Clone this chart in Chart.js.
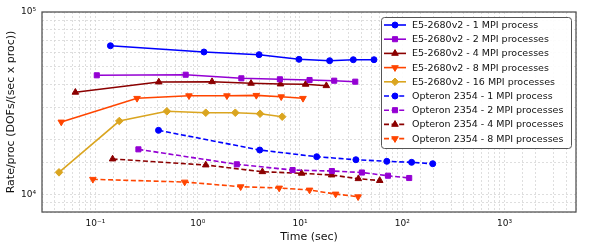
<!DOCTYPE html>
<html>
<head>
<meta charset="utf-8">
<script src="https://cdn.jsdelivr.net/npm/chart.js@4"></script>
<style>
  html, body { margin: 0; padding: 0; background: #fff; }
  #chart { display: block; }
</style>
</head>
<body>
<canvas id="chart" width="600" height="250"></canvas>
<script>
// series names
const seriesLabels = [
  "E5-2680v2 - 1 MPI process",
  "E5-2680v2 - 2 MPI processes",
  "E5-2680v2 - 4 MPI processes",
  "E5-2680v2 - 8 MPI processes",
  "E5-2680v2 - 16 MPI processes",
  "Opteron 2354 - 1 MPI process",
  "Opteron 2354 - 2 MPI processes",
  "Opteron 2354 - 4 MPI processes",
  "Opteron 2354 - 8 MPI processes"
];

// time (sec) and rate/proc values
const e5_1_time = [0.14, 1.15, 3.98, 9.78, 19.5, 33.2, 52.9];
const e5_1_rate = [65300, 60350, 58330, 55020, 54060, 54740, 54740];
const e5_2_time = [0.103, 0.762, 2.67, 6.36, 12.4, 21.6, 34.7];
const e5_2_rate = [44960, 45290, 43280, 42740, 42360, 42000, 41480];
const e5_4_time = [0.0636, 0.416, 1.38, 3.32, 6.44, 11.35, 18.1];
const e5_4_rate = [36270, 41300, 41480, 40630, 40270, 40120, 39420];
const e5_8_time = [0.0463, 0.255, 0.821, 1.93, 3.74, 6.55, 10.7];
const e5_8_rate = [24930, 33620, 34740, 34740, 34910, 34300, 33620];
const e5_16_time = [0.044, 0.171, 0.499, 1.198, 2.33, 4.07, 6.70];
const e5_16_rate = [13200, 25240, 28530, 28030, 28030, 27680, 26650];
const opt_1_time = [0.4135, 4.04, 14.56, 35.2, 70.6, 123.4, 198.6];
const opt_1_rate = [22440, 17500, 16080, 15480, 15170, 14980, 14720];
const opt_2_time = [0.263, 2.41, 8.46, 20.5, 40.3, 72.5, 116.9];
const opt_2_rate = [17650, 14610, 13590, 13420, 13170, 12650, 12290];
const opt_4_time = [0.147, 1.198, 4.29, 10.37, 20.4, 37.2, 60.2];
const opt_4_rate = [15620, 14480, 13300, 13040, 12760, 12180, 11900];
const opt_8_time = [0.0943, 0.745, 2.63, 6.26, 12.4, 22.3, 37.0];
const opt_8_rate = [12090, 11680, 11010, 10830, 10560, 10040, 9700];

// axis limits
const xMin = 0.03, xMax = 5000;
const yMin = 8000, yMax = 100000;

const FONT = "'DejaVu Sans', 'Liberation Sans', sans-serif";

const times = [e5_1_time, e5_2_time, e5_4_time, e5_8_time, e5_16_time, opt_1_time, opt_2_time, opt_4_time, opt_8_time];
const rates = [e5_1_rate, e5_2_rate, e5_4_rate, e5_8_rate, e5_16_rate, opt_1_rate, opt_2_rate, opt_4_rate, opt_8_rate];
const colors = ["#0000ff", "#9400d3", "#8b0000", "#ff4500", "#daa520", "#0000ff", "#9400d3", "#8b0000", "#ff4500"];
const markers = [
  { style: "circle", radius: 3, rot: 0 },
  { style: "rect", radius: 3.6, rot: 0 },
  { style: "triangle", radius: 3.8, rot: 0 },
  { style: "triangle", radius: 3.8, rot: 180 },
  { style: "rectRot", radius: 3.8, rot: 0 },
  { style: "circle", radius: 3, rot: 0 },
  { style: "rect", radius: 3.6, rot: 0 },
  { style: "triangle", radius: 3.8, rot: 0 },
  { style: "triangle", radius: 3.8, rot: 180 }
];
const DASH = [5, 2.6];

const datasets = seriesLabels.map((label, i) => ({
  label,
  data: times[i].map((t, k) => ({ x: t, y: rates[i][k] })),
  showLine: true,
  borderColor: colors[i],
  backgroundColor: colors[i],
  borderWidth: 1.6,
  borderDash: i >= 5 ? DASH : [],
  pointStyle: markers[i].style,
  pointRadius: markers[i].radius,
  pointRotation: markers[i].rot,
  pointBorderWidth: 1,
  pointBorderColor: colors[i],
  pointBackgroundColor: colors[i]
}));

const SUP = { "0": "⁰", "1": "¹", "2": "²", "3": "³", "4": "⁴", "5": "⁵", "6": "⁶", "7": "⁷", "8": "⁸", "9": "⁹", "-": "⁻" };
function decadeLabel(v) {
  const e = Math.log10(v);
  if (Math.abs(e - Math.round(e)) > 1e-6) return "";
  return "10" + String(Math.round(e)).split("").map(c => SUP[c]).join("");
}

// simple marker drawer for the legend (same shapes as chart points)
function drawMarker(ctx, m, color, x, y) {
  ctx.save();
  ctx.fillStyle = color;
  ctx.strokeStyle = color;
  ctx.lineWidth = 1;
  ctx.setLineDash([]);
  ctx.beginPath();
  const r = m.radius;
  if (m.style === "circle") {
    ctx.arc(x, y, r, 0, Math.PI * 2);
  } else if (m.style === "rect") {
    const s = Math.SQRT1_2 * r;
    ctx.rect(x - s, y - s, 2 * s, 2 * s);
  } else if (m.style === "rectRot") {
    ctx.moveTo(x, y - r); ctx.lineTo(x + r, y); ctx.lineTo(x, y + r); ctx.lineTo(x - r, y);
    ctx.closePath();
  } else {
    let a = m.rot * Math.PI / 180;
    for (let k = 0; k < 3; k++) {
      const px = x + Math.sin(a) * r, py = y - Math.cos(a) * r;
      k === 0 ? ctx.moveTo(px, py) : ctx.lineTo(px, py);
      a += Math.PI * 2 / 3;
    }
    ctx.closePath();
  }
  ctx.fill();
  ctx.stroke();
  ctx.restore();
}

const framePlugin = {
  id: "frame",
  afterDatasetsDraw(chart) {
    const { ctx, chartArea: a } = chart;
    ctx.save();
    ctx.strokeStyle = "#555";
    ctx.lineWidth = 1.3;
    ctx.strokeRect(a.left, a.top, a.right - a.left, a.bottom - a.top);
    ctx.restore();
  }
};

const legendPlugin = {
  id: "boxLegend",
  afterDraw(chart) {
    const ctx = chart.ctx;
    const bx = 381, by = 17, bw = 190, bh = 131, rowH = 14.2;
    ctx.save();
    ctx.beginPath();
    ctx.roundRect(bx + 0.5, by + 0.5, bw, bh, 3);
    ctx.fillStyle = "rgba(255,255,255,0.9)";
    ctx.fill();
    ctx.strokeStyle = "#555";
    ctx.lineWidth = 1;
    ctx.stroke();
    ctx.font = "9.5px " + FONT;
    ctx.textBaseline = "middle";
    ctx.textAlign = "left";
    seriesLabels.forEach((label, i) => {
      const y = 25 + i * rowH;
      ctx.strokeStyle = colors[i];
      ctx.lineWidth = 1.6;
      ctx.setLineDash(i >= 5 ? DASH : []);
      ctx.beginPath();
      ctx.moveTo(384, y);
      ctx.lineTo(406, y);
      ctx.stroke();
      drawMarker(ctx, markers[i], colors[i], 395, y);
      ctx.fillStyle = "#111";
      ctx.fillText(label, 412, y + 0.5);
    });
    ctx.restore();
  }
};

new Chart(document.getElementById("chart"), {
  type: "scatter",
  data: { datasets },
  options: {
    responsive: false,
    animation: false,
    layout: { padding: { top: 12, right: 24, left: 0, bottom: 0 } },
    plugins: { legend: { display: false }, tooltip: { enabled: false } },
    scales: {
      x: {
        type: "logarithmic",
        min: xMin,
        max: xMax,
        afterFit: s => { s.height = 38; },
        grid: { color: "#d6d6d6", lineWidth: 0.8, drawTicks: false },
        border: { display: false, dash: [2, 2] },
        ticks: {
          autoSkip: false,
          maxRotation: 0,
          padding: 6,
          color: "#111",
          font: { family: FONT, size: 9 },
          callback: v => decadeLabel(v)
        },
        title: { display: true, text: "Time (sec)", color: "#111", font: { family: FONT, size: 11 }, padding: { top: 0, bottom: 6 } }
      },
      y: {
        type: "logarithmic",
        min: yMin,
        max: yMax,
        afterFit: s => { s.width = 42; },
        grid: { color: "#d6d6d6", lineWidth: 0.8, drawTicks: false },
        border: { display: false, dash: [2, 2] },
        ticks: {
          autoSkip: false,
          padding: 6,
          color: "#111",
          font: { family: FONT, size: 9 },
          callback: v => decadeLabel(v)
        },
        title: { display: true, text: "Rate/proc (DOFs/(sec x proc))", color: "#111", font: { family: FONT, size: 11 }, padding: { top: 5, bottom: 0 } }
      }
    }
  },
  plugins: [framePlugin, legendPlugin]
});
</script>
</body>
</html>
